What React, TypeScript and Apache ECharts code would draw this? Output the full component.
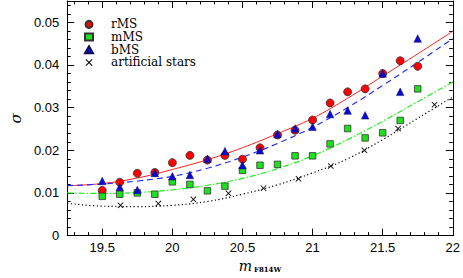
import React, { useEffect, useRef } from 'react';
import * as echarts from 'echarts';

// magnitude bins of the three MS samples
const magBins = [19.5, 19.625, 19.75, 19.875, 20.0, 20.125, 20.25, 20.375, 20.5, 20.625, 20.75, 20.875, 21.0, 21.125, 21.25, 21.375, 21.5, 21.625, 21.75];
const rMS = [0.0106, 0.0125, 0.0146, 0.0148, 0.0171, 0.0188, 0.0177, 0.0188, 0.0179, 0.0206, 0.0236, 0.0247, 0.0271, 0.0311, 0.0337, 0.0344, 0.0380, 0.0410, 0.0397];
const mMS = [0.0092, 0.0097, 0.0100, 0.0097, 0.0126, 0.0120, 0.0105, 0.0116, 0.0153, 0.0165, 0.0167, 0.0187, 0.0187, 0.0215, 0.0251, 0.0229, 0.0241, 0.0270, 0.0344];
const bMS = [0.0128, 0.0114, 0.0107, 0.0147, 0.0139, 0.0142, 0.0180, 0.0198, 0.0165, 0.0200, 0.0238, 0.0251, 0.0255, 0.0285, 0.0293, 0.0282, 0.0380, 0.0337, 0.0462];
// artificial stars
const artMag = [19.63, 19.9, 20.15, 20.4, 20.65, 20.9, 21.13, 21.37, 21.61, 21.87];
const artSigma = [0.0071, 0.0075, 0.0085, 0.0099, 0.0111, 0.0133, 0.0163, 0.0200, 0.0251, 0.0307];
// fitted curves
const fitMag = [19.25, 19.5, 19.75, 20.0, 20.25, 20.5, 20.75, 21.0, 21.25, 21.5, 21.75, 22.0];
const fitR = [0.0117, 0.0122, 0.0135, 0.0155, 0.0178, 0.0206, 0.0239, 0.0275, 0.0322, 0.0374, 0.0426, 0.0479];
const fitB = [0.0117, 0.0121, 0.0128, 0.0139, 0.0158, 0.0184, 0.0216, 0.0254, 0.0300, 0.0352, 0.0406, 0.0462];
const fitM = [0.0100, 0.0099, 0.0101, 0.0107, 0.0118, 0.0134, 0.0157, 0.0187, 0.0225, 0.0268, 0.0314, 0.0360];
const fitA = [0.0076, 0.0069, 0.0068, 0.0071, 0.0080, 0.0097, 0.0119, 0.0147, 0.0180, 0.0225, 0.0275, 0.0325];

const legendNames = ['rMS', 'mMS', 'bMS', 'artificial stars'];

const X_MIN = 19.25;
const X_MAX = 22;
const Y_MIN = 0;
const Y_MAX = 0.055;

const CROSS = 'path://M0,1L1,0L5,4L9,0L10,1L6,5L10,9L9,10L5,6L1,10L0,9L4,5Z';

const zip = (xs: number[], ys: number[]) => xs.map((x, i) => [x, ys[i]]);

const SANS = 'Liberation Sans';
const SERIF = 'DejaVu Serif';

function xAxisDef(position: 'bottom' | 'top', major: boolean, withLabels: boolean): any {
  const step = major ? 0.5 : 0.1;
  return {
    type: 'value',
    position,
    min: X_MIN,
    max: X_MAX,
    splitNumber: major ? 5 : 27,
    minInterval: step,
    maxInterval: step,
    axisLine: { show: major, onZero: false, lineStyle: { color: '#000', width: 1 } },
    axisTick: { show: true, inside: true, length: major ? 7 : 3.5, lineStyle: { color: '#000', width: 1 } },
    axisLabel: withLabels
      ? { show: true, showMinLabel: false, showMaxLabel: true, margin: 5, color: '#000', fontFamily: SANS, fontSize: 13 }
      : { show: false },
    splitLine: { show: false },
    ...(withLabels
      ? {
          name: '{m|m}{s|F814W}',
          nameLocation: 'middle',
          nameGap: 18,
          nameTextStyle: {
            rich: {
              m: { fontFamily: SERIF, fontStyle: 'italic', fontSize: 14, color: '#000' },
              s: { fontFamily: SERIF, fontWeight: 'bold', fontSize: 7, color: '#000', padding: [8, 0, 0, 2] },
            },
          },
        }
      : {}),
  };
}

function yAxisDef(position: 'left' | 'right', major: boolean, withLabels: boolean): any {
  return {
    type: 'value',
    position,
    min: Y_MIN,
    max: Y_MAX,
    interval: major ? 0.01 : 0.002,
    axisLine: { show: major, onZero: false, lineStyle: { color: '#000', width: 1 } },
    axisTick: { show: true, inside: true, length: major ? 7 : 3.5, lineStyle: { color: '#000', width: 1 } },
    axisLabel: withLabels
      ? { show: true, showMaxLabel: false, margin: 8, color: '#000', fontFamily: SANS, fontSize: 13 }
      : { show: false },
    splitLine: { show: false },
    ...(withLabels
      ? {
          name: 'σ',
          nameLocation: 'middle',
          nameGap: 38,
          nameTextStyle: { fontFamily: SERIF, fontStyle: 'italic', fontSize: 15, color: '#000' },
        }
      : {}),
  };
}

export default function App() {
  const ref = useRef<HTMLDivElement>(null);
  useEffect(() => {
    const chart = echarts.init(ref.current!, null, { renderer: 'svg' });
    const option: any = {
      animation: false,
      backgroundColor: '#fff',
      grid: { left: 48, right: 8, top: 1, bottom: 33, containLabel: false },
      legend: {
        orient: 'vertical',
        left: 84,
        top: 18,
        padding: 0,
        itemGap: 0,
        itemWidth: 8,
        itemHeight: 7,
        textStyle: { fontFamily: SERIF, fontSize: 12, color: '#000', lineHeight: 12.7, padding: [0, 0, 0, 13] },
        data: [
          { name: legendNames[0], icon: 'circle' },
          { name: legendNames[1], icon: 'rect' },
          { name: legendNames[2], icon: 'triangle' },
          { name: legendNames[3], icon: CROSS },
        ],
        selectedMode: false,
      },
      xAxis: [
        xAxisDef('bottom', true, true),
        xAxisDef('bottom', false, false),
        xAxisDef('top', true, false),
        xAxisDef('top', false, false),
      ],
      yAxis: [
        yAxisDef('left', true, true),
        yAxisDef('left', false, false),
        yAxisDef('right', true, false),
        yAxisDef('right', false, false),
      ],
      series: [
        {
          name: 'fit rMS', type: 'line', data: zip(fitMag, fitR), smooth: 0.4, symbol: 'none',
          lineStyle: { color: '#ff2020', width: 1 }, z: 2, silent: true,
        },
        {
          name: 'fit bMS', type: 'line', data: zip(fitMag, fitB), smooth: 0.4, symbol: 'none',
          lineStyle: { color: '#2a2aff', width: 1.2, type: [6, 4] }, z: 2, silent: true,
        },
        {
          name: 'fit mMS', type: 'line', data: zip(fitMag, fitM), smooth: 0.4, symbol: 'none',
          lineStyle: { color: '#22ee22', width: 1.2, type: [6, 2, 1.5, 2] }, z: 2, silent: true,
        },
        {
          name: 'fit art', type: 'line', data: zip(fitMag, fitA), smooth: 0.4, symbol: 'none',
          lineStyle: { color: '#000', width: 1.2, type: [1.2, 2.5] }, z: 2, silent: true,
        },
        {
          name: legendNames[0], type: 'scatter', data: zip(magBins, rMS), symbol: 'circle', symbolSize: 8,
          itemStyle: { color: '#ff0000', borderColor: '#333', borderWidth: 0.8, opacity: 1 }, z: 3,
        },
        {
          name: legendNames[1], type: 'scatter', data: zip(magBins, mMS), symbol: 'rect', symbolSize: 6.5,
          itemStyle: { color: '#1ee01e', borderColor: '#333', borderWidth: 0.8, opacity: 1 }, z: 4,
        },
        {
          name: legendNames[2], type: 'scatter', data: zip(magBins, bMS), symbol: 'triangle', symbolSize: 7.5,
          itemStyle: { color: '#0a0ad0', borderColor: '#0a0a60', borderWidth: 0.5, opacity: 1 }, z: 5,
        },
        {
          name: legendNames[3], type: 'scatter', data: zip(artMag, artSigma), symbol: CROSS, symbolSize: 6,
          itemStyle: { color: '#000', opacity: 1 }, z: 6,
        },
      ],
    };
    chart.setOption(option);
    return () => chart.dispose();
  }, []);
  return <div ref={ref} style={{ position: 'absolute', left: 0, top: 0, width: 463, height: 278 }} />;
}
